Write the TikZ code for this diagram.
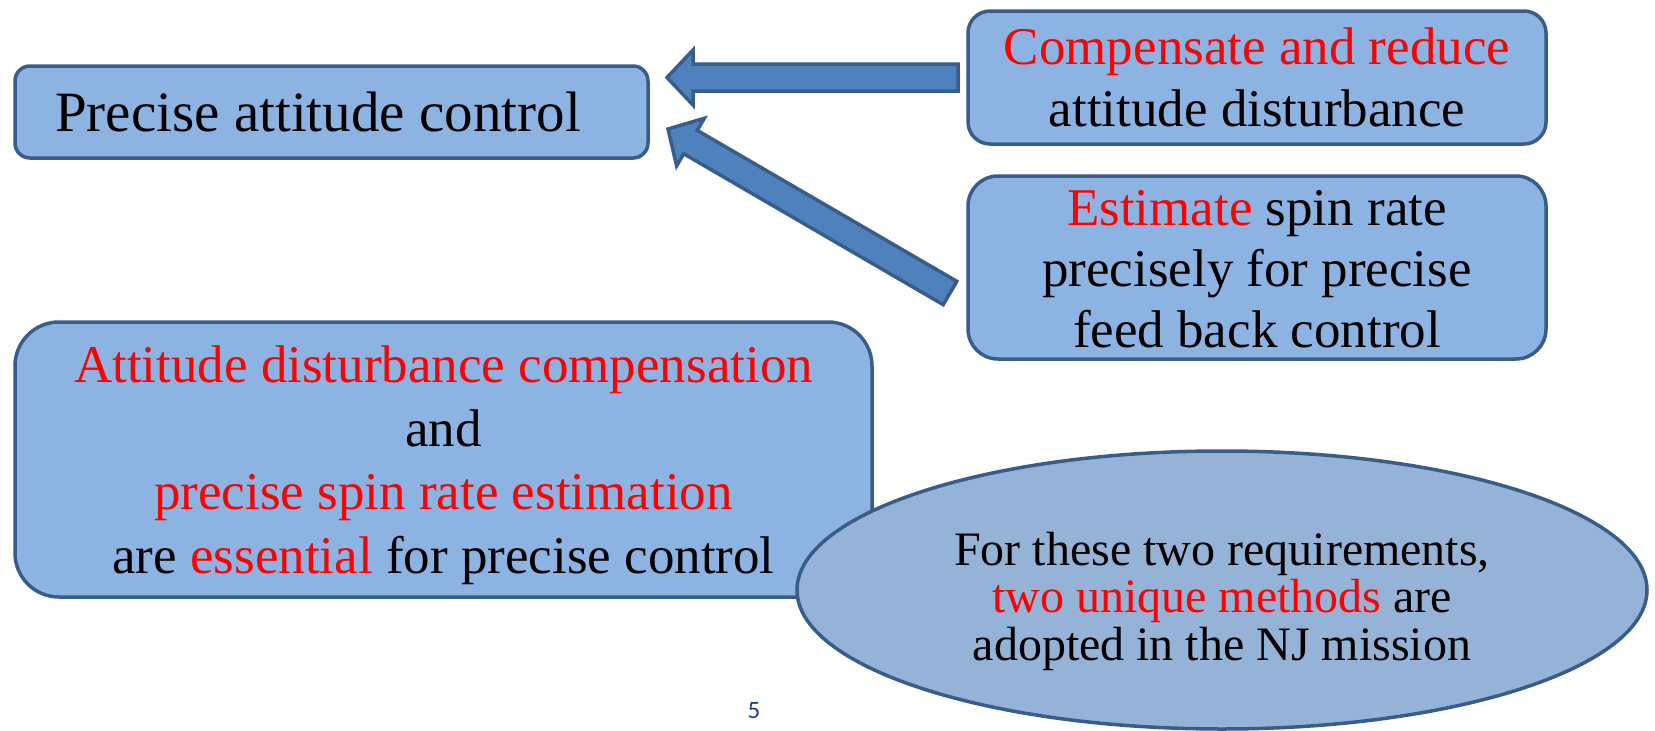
\documentclass[tikz,border=0pt]{standalone}
\usepackage{fontspec}
\setmainfont{Liberation Serif}
\newfontfamily\pnfont{Carlito}
\usetikzlibrary{shapes.geometric,calc}
\definecolor{boxfill}{HTML}{8DB3E2}
\definecolor{ellfill}{HTML}{95B3D7}
\definecolor{edgeblue}{HTML}{385D8A}
\definecolor{arrfill}{HTML}{4F81BD}
\definecolor{hlred}{HTML}{FF0000}
\definecolor{pnum}{HTML}{1F3F8C}
\newcommand\redtxt[1]{\textcolor{hlred}{#1}}
\newcommand\blockarrow[2]{%
\draw[barrow] let \p1=($(#2)-(#1)$), \n1={atan2(\y1,\x1)}, \n2={veclen(\x1,\y1)-26} in
 ($(#1)+(\n1+90:13.5)$) -- ++(\n1:\n2) -- ++(\n1+90:14) -- (#2)
 -- ($(#1)+(\n1:\n2)+(\n1-90:27.5)$) -- ++(\n1+90:14) -- ($(#1)+(\n1-90:13.5)$) -- cycle;}
\begin{document}
\begin{tikzpicture}[x=1pt,y=1pt,
  box/.style={draw=edgeblue,fill=boxfill,line width=3.5pt,inner sep=0pt},
  boxtext/.style={align=center,inner sep=0pt,font=\fontsize{53}{62}\selectfont},
  ellbox/.style={ellipse,draw=edgeblue,fill=ellfill,line width=3.5pt,inner sep=0pt},
  barrow/.style={draw=edgeblue,fill=arrfill,line width=3.5pt,line join=miter}]
\useasboundingbox[fill=white] (0,0) rectangle (1655,-731);

% arrows
\coordinate (a1tail) at (958,-77.5);
\coordinate (a1tip) at (667,-77.5);
\coordinate (a2tail) at (950,-293);
\coordinate (a2tip) at (668,-129);
\blockarrow{a1tail}{a1tip}
\blockarrow{a2tail}{a2tip}

% boxes
\node[box,minimum width=633,minimum height=92,rounded corners=15] (pac) at (331.5,-112) {};
\node[boxtext,font=\fontsize{57}{62}\selectfont] (pactxt) at (318,-112) {Precise attitude control};

\node[box,minimum width=578,minimum height=133,rounded corners=22] (comp) at (1257,-77.5) {};
\node[boxtext] (comptxt) at (1257,-77.5)
  {\redtxt{Compensate and reduce}\\attitude disturbance};

\node[box,minimum width=578,minimum height=183,rounded corners=30] (est) at (1257,-267.5) {};
\node[boxtext,font=\fontsize{53}{61}\selectfont] (esttxt) at (1257,-269)
  {\redtxt{Estimate} spin rate\\precisely for precise\\feed back control};

\node[box,minimum width=857,minimum height=275,rounded corners=44] (ess) at (443.5,-459.5) {};
\node[boxtext,font=\fontsize{53}{63.5}\selectfont] (esstxt) at (443.5,-465)
  {\redtxt{Attitude disturbance compensation}\\and\\\redtxt{precise spin rate estimation}\\are \redtxt{essential} for precise control};

\node[ellbox,minimum width=850,minimum height=278] (meth) at (1222,-590) {};
\node[boxtext,font=\fontsize{48}{47.5}\selectfont] (methtxt) at (1222,-601)
  {For these two requirements,\\\redtxt{two unique methods} are\\adopted in the NJ mission};

\node[font=\pnfont\fontsize{25}{30}\selectfont,text=pnum,inner sep=0pt] (pn) at (754,-711) {5};
\end{tikzpicture}
\end{document}
